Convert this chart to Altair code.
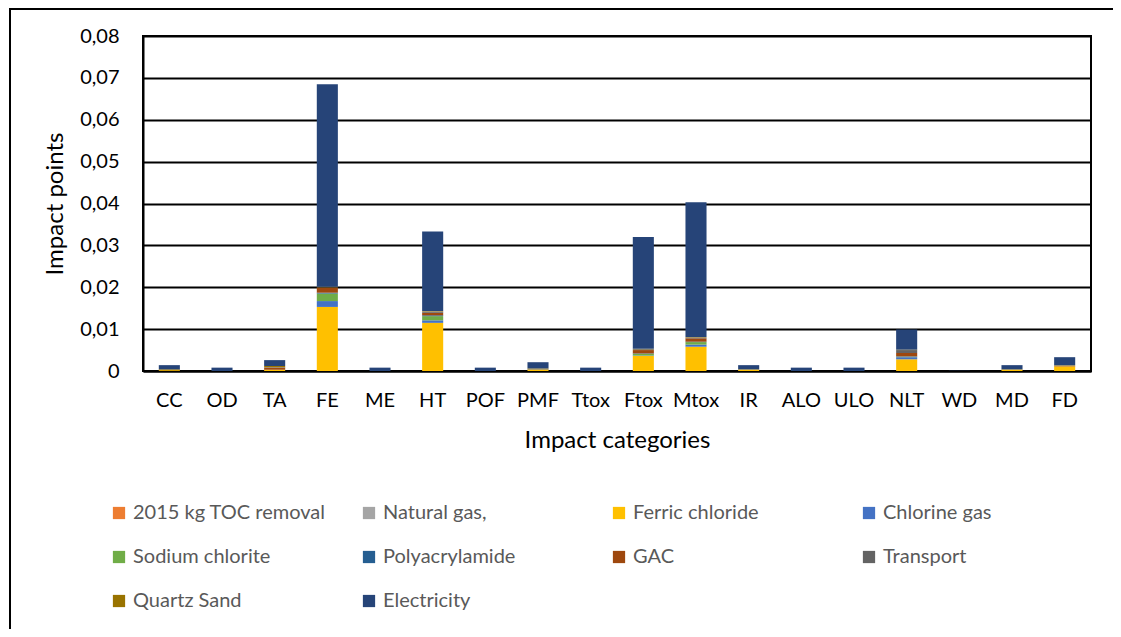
import altair as alt
import pandas as pd

categories = ["CC", "OD", "TA", "FE", "ME", "HT", "POF", "PMF", "Ttox", "Ftox",
              "Mtox", "IR", "ALO", "ULO", "NLT", "WD", "MD", "FD"]

series_names = ["2015 kg TOC removal", "Natural gas,", "Ferric chloride", "Chlorine gas",
                "Sodium chlorite", "Polyacrylamide", "GAC", "Transport", "Quartz Sand",
                "Electricity"]
series_colors = ["#ED7D31", "#A5A5A5", "#FFC000", "#4472C4", "#70AD47",
                 "#255E91", "#9E480E", "#636363", "#997300", "#264478"]

toc_removal     = [0, 0, 0, 0, 0, 0, 0, 0, 0, 0, 0, 0, 0, 0, 0, 0, 0, 0]
natural_gas     = [0, 0, 0, 0, 0, 0, 0, 0, 0, 0, 0, 0, 0, 0, 0, 0, 0, 0]
ferric_chloride = [0.0002, 0, 0.0003, 0.0153, 0, 0.0115, 0, 0.0003, 0, 0.0036,
                   0.0058, 0.0003, 0, 0, 0.0028, 0, 0.0003, 0.0011]
chlorine_gas    = [0, 0, 0, 0.0014, 0, 0.0006, 0, 0, 0, 0.0001,
                   0.0005, 0, 0, 0, 0.0005, 0, 0, 0]
sodium_chlorite = [0, 0, 0, 0.0018, 0, 0.0010, 0, 0, 0, 0.0004,
                   0.0006, 0, 0, 0, 0.0001, 0, 0, 0]
polyacrylamide  = [0, 0, 0, 0.0002, 0, 0.0002, 0, 0, 0, 0.0001,
                   0.0001, 0, 0, 0, 0.0001, 0, 0, 0]
gac             = [0, 0, 0.0005, 0.0012, 0, 0.0006, 0, 0, 0, 0.0008,
                   0.0008, 0, 0, 0, 0.0008, 0, 0, 0.0001]
transport       = [0, 0, 0.0001, 0.0001, 0, 0.0003, 0, 0.0001, 0, 0.0002,
                   0.0002, 0, 0, 0, 0.0007, 0, 0, 0.0001]
quartz_sand     = [0.0002, 0, 0.0003, 0.0001, 0, 0.0001, 0, 0.0002, 0, 0.0001,
                   0.0001, 0.0001, 0, 0, 0.0001, 0, 0.0001, 0.0001]
electricity     = [0.0010, 0.0008, 0.0014, 0.0484, 0.0008, 0.0190, 0.0008, 0.0015, 0.0008, 0.0267,
                   0.0322, 0.0010, 0.0008, 0.0008, 0.0048, 0.00005, 0.0010, 0.0019]

series_values = [toc_removal, natural_gas, ferric_chloride, chlorine_gas, sodium_chlorite,
                 polyacrylamide, gac, transport, quartz_sand, electricity]

rows = []
for idx, (name, vals) in enumerate(zip(series_names, series_values)):
    for cat, v in zip(categories, vals):
        rows.append({"category": cat, "series": name, "value": v, "idx": idx})
df = pd.DataFrame(rows)

FONT = "Lato"

bars = alt.Chart(df).mark_bar().encode(
    x=alt.X("category:N", sort=categories,
            scale=alt.Scale(paddingInner=0.6, paddingOuter=0.3),
            axis=alt.Axis(title="Impact categories", labelAngle=0, ticks=False,
                          domain=True, domainColor="#000", domainWidth=2,
                          labelPadding=19, titlePadding=18, labelFontSize=20,
                          titleFontSize=24, titleFontWeight="normal",
                          labelColor="#000", titleColor="#000")),
    y=alt.Y("sum(value):Q", stack="zero",
            scale=alt.Scale(domain=[0, 0.08], nice=False),
            axis=alt.Axis(title="Impact points", values=[0, 0.01, 0.02, 0.03, 0.04,
                                                         0.05, 0.06, 0.07, 0.08],
                          labelExpr="datum.value == 0 ? '0' : replace(format(datum.value, '.2f'), '.', ',')",
                          ticks=False, grid=True, gridColor="#000", gridWidth=2,
                          domain=True, domainColor="#000", domainWidth=2,
                          labelPadding=24, titlePadding=12, labelFontSize=20,
                          titleFontSize=24, titleFontWeight="normal",
                          labelColor="#000", titleColor="#000")),
    color=alt.Color("series:N", sort=series_names,
                    scale=alt.Scale(domain=series_names, range=series_colors),
                    legend=alt.Legend(title=None, orient="none", legendX=-34, legendY=467,
                                      direction="horizontal",
                                      columns=4, symbolType="square", symbolSize=150,
                                      symbolStrokeWidth=0, labelFontSize=20,
                                      labelColor="#595959", rowPadding=24,
                                      columnPadding=33, gridAlign="all",
                                      labelLimit=300)),
    order=alt.Order("idx:Q", sort="ascending"),
)

frame_df = pd.DataFrame({"k": [0]})
frame = alt.Chart(frame_df).mark_rect(filled=False, stroke="#000", strokeWidth=2).encode(
    x=alt.value(-133), x2=alt.value(1000), y=alt.value(-27), y2=alt.value(700)
)

chart = alt.layer(bars, frame).properties(
    width=948, height=335,
    padding={"left": 135, "top": 28, "right": 22, "bottom": 258},
    autosize=alt.AutoSizeParams(type="none"),
).configure(font=FONT).configure_view(stroke="#000", strokeWidth=2)

chart.save("out.html", embed_options={"renderer": "svg", "actions": False})
